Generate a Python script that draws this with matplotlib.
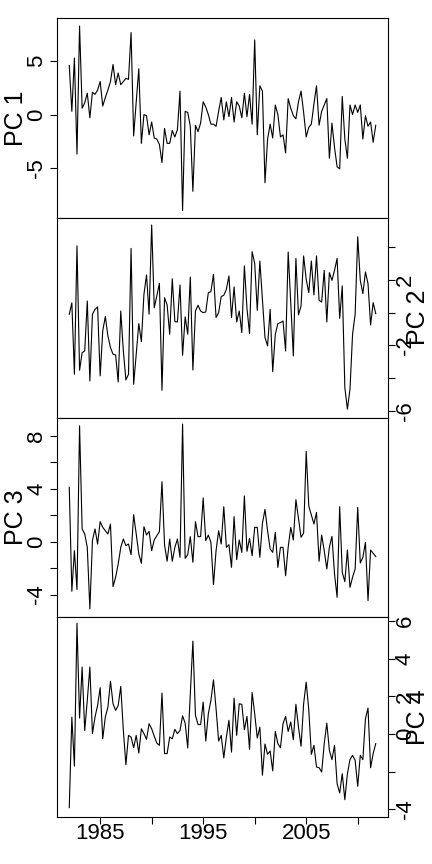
import matplotlib
matplotlib.use("Agg")
import matplotlib.pyplot as plt
import numpy as np

plt.rcParams["font.family"] = ["Liberation Sans", "DejaVu Sans"]

# quarterly series, 1982 Q1 .. 2011 Q4
start_year = 1982
freq = 4

pc1 = [4.6, 0.3, 5.3, -3.7, 8.3, 0.6, 1.1, 2.0, -0.3, 2.1,
       1.9, 2.3, 3.1, 0.8, 1.6, 2.3, 3.1, 4.7, 2.8, 3.9,
       2.8, 3.1, 3.4, 3.3, 7.7, -2.0, 1.2, 4.3, -2.7, 0.0,
       -0.1, -1.9, -0.7, -2.2, -2.3, -2.8, -4.5, -1.3, -2.7, -2.7,
       -1.5, -2.1, -1.4, 2.2, -9.0, 0.3, 0.2, -1.1, -7.2, -1.0,
       -1.6, -0.8, 1.2, 0.7, 0.0, -0.9, -0.9, -1.1, 0.3, 1.6,
       -0.5, 1.2, -0.2, 1.6, -0.7, 1.2, 0.8, -0.3, 2.0, -0.2,
       1.9, -0.9, 7.0, -1.9, 2.7, 2.2, -6.4, -2.3, -0.9, -2.2,
       0.9, 0.0, -2.1, -1.9, -3.6, 1.5, 0.6, -0.1, -0.4, 1.2,
       2.2, 0.2, -2.1, -1.2, -0.9, 1.0, 2.7, -1.0, 0.3, 0.9,
       1.5, -4.1, -0.8, -3.1, -4.9, -5.1, 1.7, -2.3, -4.1, 0.9,
       0.0, 0.9, 0.2, 0.9, -2.3, -0.1, -1.1, -0.7, -2.6, -1.0]

pc2 = [-0.1, 0.6, -3.76, 4.07, -3.52, -2.44, -2.34, 0.71, -4.17, -0.1,
       0.2, 0.35, -3.86, -1.12, -0.24, -1.42, -2.13, -2.54, -2.58, -4.23,
       0.1, -2.34, -4.11, -3.76, 3.92, -4.37, -2.54, -0.67, -1.77, 1.12,
       2.30, -0.1, 5.35, 0.3, 1.02, 1.79, -4.74, 0.91, 0.47, -1.32,
       2.07, -0.55, -0.57, 1.69, -2.6, -0.26, -1.32, 2.17, -3.5, 0.1,
       0.45, 0.1, 0.0, 0.04, 1.22, 1.28, 2.34, -0.3, 0.0, 0.98,
       1.06, 1.42, 2.24, -0.3, 1.57, -0.57, 0.1, -1.22, 2.85, 0.26,
       -1.28, 3.72, 3.01, 0.14, 3.15, 0.81, -1.52, -2.03, 0.2, -3.6,
       -1.32, -0.67, -0.61, -0.51, -2.34, 3.7, 0.61, -2.64, 3.31, -0.14,
       0.41, 3.46, 2.03, 1.22, 3.15, 1.08, 3.46, 0.75, 0.65, 2.58,
       -0.57, 2.44, 1.97, 2.58, 3.31, -0.35, 1.63, -4.57, -5.89, -4.67,
       -1.32, -0.1, 4.63, 1.97, 1.16, 2.48, 1.77, -0.75, 0.61, -0.06]

pc3 = [4.1, -3.75, -0.68, -3.62, 8.75, 0.96, 0.58, -0.43, -5.08, 0.08,
       0.96, -0.18, 1.51, 1.08, 0.83, 0.58, 1.33, -3.4, -2.69, -1.69,
       -0.43, 0.2, -0.3, -0.18, -0.98, 2.04, 0.58, -0.93, -1.64, 1.13,
       0.5, 0.78, -0.68, 0.13, 0.45, 0.75, 4.53, -0.25, -1.48, 0.2,
       -1.48, -0.43, 0.2, -1.18, 8.88, -1.26, -0.98, 0.38, -1.56, 1.51,
       0.38, 0.38, 3.3, 0.08, 0.5, -0.05, -3.25, -0.68, 0.83, -0.18,
       2.64, -0.43, -0.23, -1.94, 1.89, -1.36, 0.13, -0.81, 3.45, -0.73,
       0.25, -1.06, 1.08, 1.08, -1.18, 1.38, 2.44, 0.83, -0.55, -0.81,
       0.7, -1.94, -0.43, -0.43, -2.57, -0.43, 1.08, 0.13, 3.17, 1.76,
       0.33, 0.65, 6.82, 2.69, 2.01, 1.33, 2.21, -1.48, 0.5, -0.68,
       -2.06, -0.43, 0.4, -2.44, -4.2, 2.64, -2.31, -3.02, -0.63, -3.45,
       -2.69, -2.06, 2.59, -1.61, -1.18, -0.05, -4.45, -0.63, -0.88, -1.13]

pc4 = [-3.91, 0.9, -1.7, 5.89, 0.85, 3.56, 0.19, 1.79, 3.56, 0.02,
       0.9, 1.52, 2.46, -0.25, 0.9, 1.43, 2.81, 1.61, 1.26, 1.52,
       2.53, 0.19, -1.63, -0.07, -0.16, -0.73, -0.07, -1.01, 0.28, 0.02,
       -0.28, 0.55, 0.28, -0.12, -0.48, -0.6, 2.18, -1.04, -1.04, -0.16,
       -0.25, 0.25, 0.02, 0.19, 0.97, 0.58, -0.74, 2.14, 4.94, 0.99,
       0.51, 0.5, 1.7, -0.37, 1.08, 1.79, 2.88, 1.35, -0.37, -0.07,
       -1.27, -0.16, 0.73, -0.96, 1.91, -0.07, 1.61, 1.58, 0.23, 0.94,
       -0.81, 2.21, 1.08, -0.21, 0.37, -2.19, -0.53, -1.08, -0.9, -1.96,
       0.14, -0.51, -0.73, 0.55, 0.94, 0.14, 0.64, -0.3, 1.58, 0.37,
       -0.65, 1.61, 2.76, 1.29, -1.08, -0.6, -1.75, -1.79, -2.02, -0.51,
       0.58, -0.87, -1.36, -0.6, -2.64, -3.13, -2.11, -3.49, -2.11, -1.36,
       -1.13, -1.4, -2.78, -1.13, -1.36, 0.81, 1.38, -1.79, -1.04, -0.51]

series = [pc1, pc2, pc3, pc4]
names = ["PC 1", "PC 2", "PC 3", "PC 4"]
sides = ["left", "right", "left", "right"]
# (tick positions, tick labels) - some labels dropped as in the original
yticks = [
    ([-5, 0, 5], ["-5", "0", "5"]),
    ([-6, -4, -2, 0, 2, 4], ["-6", "", "-2", "", "2", ""]),
    ([-4, -2, 0, 2, 4, 6, 8], ["-4", "", "0", "", "4", "", "8"]),
    ([-4, -2, 0, 2, 4, 6], ["-4", "", "0", "2", "4", "6"]),
]
ylims = [(-9.68, 9.06), (-6.40, 5.79), (-5.71, 9.38), (-4.41, 6.21)]
xticks = [1985, 1990, 1995, 2000, 2005, 2010]
xticklabels = ["1985", "", "1995", "", "2005", ""]

W, H = 432, 864
left, right, top, bottom = 57, 388, 18, 817
ph = (bottom - top) / 4

fig = plt.figure(figsize=(W / 100, H / 100), dpi=100)
for k, (vals, name, side) in enumerate(zip(series, names, sides)):
    y0 = top + k * ph
    ax = fig.add_axes([left / W, 1 - (y0 + ph) / H, (right - left) / W, ph / H])
    t = start_year + np.arange(len(vals)) / freq
    ax.plot(t, vals, color="black", linewidth=0.8)
    ax.set_xlim(1980.81, 2012.94)
    ax.set_ylim(*ylims[k])
    for s in ax.spines.values():
        s.set_linewidth(0.8)

    ticks, labels = yticks[k]
    ax.set_yticks(ticks)
    ax.set_yticklabels(labels, fontsize=16, rotation=90, va="center")
    if side == "right":
        ax.yaxis.tick_right()
        ax.yaxis.set_label_position("right")
        ax.tick_params(axis="y", length=5, width=0.8, pad=0)
        for lab in ax.get_yticklabels():
            lab.set_ha("left")
        ax.set_ylabel(name, fontsize=18, rotation=90, va="center")
        ax.yaxis.set_label_coords((418 - left) / (right - left), 0.5)
    else:
        ax.tick_params(axis="y", length=5, width=0.8, pad=2)
        ax.set_ylabel(name, fontsize=18, rotation=90, va="center")
        ax.yaxis.set_label_coords((16 - left) / (right - left), 0.5)

    if k == 3:
        ax.set_xticks(xticks)
        ax.set_xticklabels(xticklabels, fontsize=16)
        ax.tick_params(axis="x", length=5, width=0.8, pad=-1)
    else:
        ax.set_xticks([])

fig.savefig("out.png", dpi=100)
